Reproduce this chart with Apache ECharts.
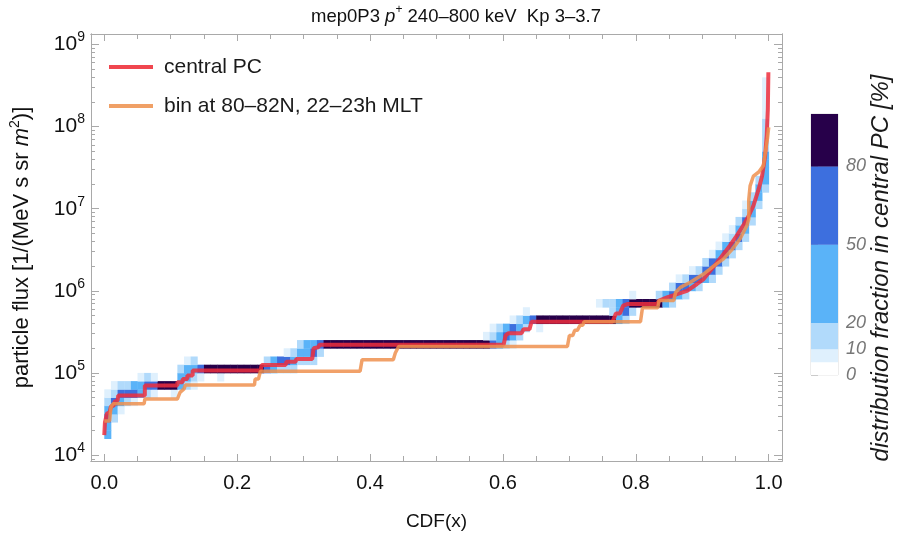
<!DOCTYPE html>
<html><head><meta charset="utf-8">
<script src="https://cdn.jsdelivr.net/npm/echarts@6/dist/echarts.min.js"></script>
<style>html,body{margin:0;padding:0;background:#fff}#c{width:912px;height:536px}</style>
</head><body><div id="c"></div>
<script>
// ---- tick labels / axis data ----
const xTickLabels = [0, 0.2, 0.4, 0.6, 0.8, 1.0];
const xMinorTicks = [0.05,0.1,0.15,0.25,0.3,0.35,0.45,0.5,0.55,0.65,0.7,0.75,0.85,0.9,0.95];
const yTickExponents = [4, 5, 6, 7, 8, 9];
const colorbarTicks = [0, 10, 20, 50, 80];
const colorbarBounds = [0, 5, 10, 20, 50, 80, 100];
const colorbarColors = ['#ffffff', '#dff0fd', '#b1dafb', '#5ab3f8', '#3d6fde', '#27004a'];

// ---- series: [CDF, flux] ----
const centralPC = [
 [0.000,1.75e4],[0.001,2.5e4],[0.003,2.5e4],[0.004,3.2e4],[0.008,3.3e4],[0.010,3.9e4],[0.014,4.0e4],
 [0.016,4.5e4],[0.020,4.6e4],[0.021,5.3e4],[0.061,5.3e4],[0.061,7.0e4],[0.110,7.0e4],[0.110,7.7e4],
 [0.118,7.7e4],[0.118,8.4e4],[0.125,8.4e4],[0.125,9.3e4],[0.133,9.3e4],[0.133,1.07e5],[0.235,1.07e5],
 [0.237,1.25e5],[0.273,1.25e5],[0.274,1.37e5],[0.288,1.37e5],[0.289,1.48e5],[0.313,1.48e5],[0.315,2.0e5],
 [0.322,2.05e5],[0.324,2.2e5],[0.601,2.2e5],[0.604,2.85e5],[0.608,3.05e5],[0.628,3.05e5],[0.631,3.4e5],
 [0.640,3.4e5],[0.643,4.2e5],[0.765,4.2e5],[0.770,5.3e5],[0.776,5.3e5],[0.781,6.6e5],[0.787,6.9e5],
 [0.832,6.9e5],[0.835,7.6e5],[0.847,8.3e5],[0.862,9.1e5],[0.877,1.0e6],[0.892,1.21e6],[0.902,1.39e6],
 [0.912,1.76e6],[0.922,2.2e6],[0.932,2.8e6],[0.942,3.6e6],[0.952,4.7e6],[0.962,6.3e6],[0.970,8.2e6],
 [0.977,1.09e7],[0.985,1.74e7],[0.990,2.5e7],[0.9946,4.4e7],[0.997,7.8e7],[0.9987,1.64e8],[0.9995,4.6e8]
];
const binMLT = [
 [0.000,2.6e4],[0.008,2.6e4],[0.010,3.8e4],[0.013,4.2e4],[0.060,4.2e4],[0.061,4.8e4],[0.110,4.8e4],
 [0.114,5.8e4],[0.120,6.4e4],[0.122,7.1e4],[0.226,7.1e4],[0.227,8.4e4],[0.232,8.4e4],[0.235,1.05e5],
 [0.385,1.05e5],[0.388,1.45e5],[0.435,1.45e5],[0.438,1.75e5],[0.441,1.8e5],[0.443,2.1e5],[0.697,2.1e5],
 [0.700,2.85e5],[0.705,2.85e5],[0.708,3.3e5],[0.712,3.3e5],[0.716,3.8e5],[0.720,3.8e5],[0.722,4.2e5],
 [0.807,4.2e5],[0.810,6.2e5],[0.833,6.2e5],[0.835,7.6e5],[0.857,7.6e5],[0.860,9.6e5],[0.867,1.1e6],
 [0.882,1.27e6],[0.902,1.6e6],[0.917,2.0e6],[0.932,2.45e6],[0.945,3.2e6],[0.957,4.3e6],[0.967,6.2e6],
 [0.970,7.5e6],[0.970,1.3e7],[0.972,1.9e7],[0.977,2.5e7],[0.985,2.8e7],[0.992,3.35e7],[0.998,7.1e7],[1.000,9.8e7]
];

// ---- heatmap: runs of cells [log10 flux bin start, CDF from, CDF to, percent] ----
const heatRuns = [
 [4.2,0.00,0.01,35],
 [4.3,0.00,0.01,35],
 [4.4,0.00,0.01,65],[4.4,0.01,0.02,15],
 [4.5,0.00,0.01,35],[4.5,0.01,0.02,35],[4.5,0.02,0.03,7],
 [4.6,0.00,0.01,15],[4.6,0.01,0.02,65],[4.6,0.02,0.03,35],[4.6,0.03,0.04,15],[4.6,0.04,0.05,7],
 [4.7,0.00,0.01,7],[4.7,0.01,0.02,15],[4.7,0.02,0.05,65],[4.7,0.05,0.06,35],[4.7,0.06,0.07,15],[4.7,0.07,0.08,7],[4.7,0.10,0.11,7],
 [4.8,0.01,0.02,7],[4.8,0.02,0.04,15],[4.8,0.04,0.06,35],[4.8,0.06,0.08,65],[4.8,0.08,0.11,90],[4.8,0.11,0.12,35],[4.8,0.12,0.13,15],[4.8,0.13,0.14,7],
 [4.9,0.05,0.06,7],[4.9,0.06,0.07,15],[4.9,0.07,0.08,7],[4.9,0.11,0.13,35],[4.9,0.13,0.14,15],[4.9,0.14,0.15,7],[4.9,0.17,0.18,7],
 [5.0,0.11,0.12,15],[5.0,0.12,0.14,35],[5.0,0.14,0.15,65],[5.0,0.15,0.24,90],[5.0,0.24,0.25,65],[5.0,0.25,0.26,35],[5.0,0.26,0.29,15],
 [5.1,0.12,0.13,7],[5.1,0.13,0.14,15],[5.1,0.24,0.25,15],[5.1,0.25,0.26,35],[5.1,0.26,0.28,65],[5.1,0.28,0.29,35],[5.1,0.29,0.32,15],
 [5.2,0.27,0.28,7],[5.2,0.28,0.29,15],[5.2,0.29,0.31,35],[5.2,0.31,0.32,65],[5.2,0.32,0.33,15],
 [5.3,0.29,0.30,15],[5.3,0.30,0.32,35],[5.3,0.32,0.33,65],[5.3,0.33,0.58,90],[5.3,0.58,0.59,65],[5.3,0.59,0.60,35],[5.3,0.60,0.61,15],[5.3,0.61,0.62,7],
 [5.4,0.57,0.58,7],[5.4,0.58,0.59,15],[5.4,0.59,0.60,35],[5.4,0.60,0.61,65],[5.4,0.61,0.62,35],[5.4,0.62,0.63,15],
 [5.5,0.58,0.59,7],[5.5,0.59,0.60,15],[5.5,0.60,0.61,35],[5.5,0.61,0.62,65],[5.5,0.62,0.63,35],[5.5,0.63,0.64,15],[5.5,0.65,0.66,7],
 [5.6,0.61,0.62,7],[5.6,0.62,0.63,15],[5.6,0.63,0.64,35],[5.6,0.64,0.65,65],[5.6,0.65,0.77,90],[5.6,0.77,0.78,35],[5.6,0.78,0.79,15],
 [5.7,0.63,0.64,7],[5.7,0.76,0.77,15],[5.7,0.77,0.78,35],[5.7,0.78,0.79,65],[5.7,0.79,0.80,15],
 [5.8,0.74,0.75,7],[5.8,0.75,0.77,15],[5.8,0.77,0.78,35],[5.8,0.78,0.79,65],[5.8,0.79,0.84,90],[5.8,0.84,0.85,35],[5.8,0.85,0.86,15],
 [5.9,0.79,0.80,7],[5.9,0.83,0.84,15],[5.9,0.84,0.85,35],[5.9,0.85,0.86,65],[5.9,0.86,0.87,35],[5.9,0.87,0.88,15],
 [6.0,0.85,0.86,15],[6.0,0.86,0.88,65],[6.0,0.88,0.89,35],[6.0,0.89,0.90,15],
 [6.1,0.86,0.87,7],[6.1,0.87,0.88,15],[6.1,0.88,0.90,65],[6.1,0.90,0.91,35],[6.1,0.91,0.92,15],
 [6.2,0.88,0.89,7],[6.2,0.89,0.90,15],[6.2,0.90,0.92,65],[6.2,0.92,0.93,15],
 [6.3,0.90,0.91,15],[6.3,0.91,0.93,65],[6.3,0.93,0.94,15],
 [6.4,0.91,0.92,7],[6.4,0.92,0.93,35],[6.4,0.93,0.94,65],[6.4,0.94,0.95,15],
 [6.5,0.92,0.93,7],[6.5,0.93,0.94,35],[6.5,0.94,0.95,65],[6.5,0.95,0.96,15],
 [6.6,0.93,0.94,7],[6.6,0.94,0.95,15],[6.6,0.95,0.96,65],[6.6,0.96,0.97,15],
 [6.7,0.94,0.95,7],[6.7,0.95,0.97,35],
 [6.8,0.95,0.96,15],[6.8,0.96,0.97,65],[6.8,0.97,0.98,15],
 [6.9,0.96,0.97,15],[6.9,0.97,0.98,35],
 [7.0,0.96,0.97,7],[7.0,0.97,0.98,35],[7.0,0.98,0.99,15],
 [7.1,0.97,0.98,15],[7.1,0.98,0.99,35],
 [7.2,0.98,0.99,35],[7.2,0.99,1.00,15],
 [7.3,0.98,0.99,15],[7.3,0.99,1.00,35],
 [7.4,0.99,1.00,35],[7.5,0.99,1.00,35],[7.6,0.99,1.00,35],
 [7.7,0.99,1.00,15],[7.8,0.99,1.00,15],[7.9,0.99,1.00,15],[8.0,0.99,1.00,15],
 [8.1,0.99,1.00,7],[8.2,0.99,1.00,7],[8.3,0.99,1.00,7],[8.4,0.99,1.00,7],[8.5,0.99,1.00,7]
];

// ---- build ----
const FONT = '"Liberation Sans", Arial, Helvetica, sans-serif';
const X_MIN = -0.02, X_MAX = 1.02, Y_MIN = 3.927, Y_MAX = 9.128;
const LOG_BIN = 0.1, CDF_BIN = 0.01;
const AX = '#a9a9a9';

const heatCells = [];
heatRuns.forEach(r => {
  const a = Math.round(r[1] * 100), b = Math.round(r[2] * 100);
  for (let k = a; k < b; k++) heatCells.push([k / 100, r[0], r[3]]);
});
function pctColor(v) {
  for (let i = 0; i < colorbarColors.length; i++) {
    if (v < colorbarBounds[i + 1]) return colorbarColors[i];
  }
  return colorbarColors[colorbarColors.length - 1];
}
const yMajor = yTickExponents.slice();
const yMinor = [];
for (let e = 3; e <= 9; e++) for (let k = 2; k <= 9; k++) {
  const v = e + Math.log10(k);
  if (v > Y_MIN && v < Y_MAX) yMinor.push(v);
}
const toLog = arr => arr.map(p => [p[0], Math.log10(p[1])]);

function yAxisDef(pos, ticks, len, withLabels) {
  return {
    type: 'value', gridIndex: 0, min: Y_MIN, max: Y_MAX, position: pos,
    axisLine: { show: true, onZero: false, lineStyle: { color: AX, width: 1 } },
    axisTick: { show: true, inside: true, length: len, customValues: ticks, lineStyle: { color: AX } },
    axisLabel: withLabels ? {
      show: true, customValues: yMajor, margin: 6,
      formatter: v => '{b|10}{s|' + Math.round(v) + '}',
      rich: {
        b: { fontSize: 21, fontFamily: FONT, color: '#111', lineHeight: 28 },
        s: { fontSize: 14, fontFamily: FONT, color: '#111', lineHeight: 14, verticalAlign: 'top' }
      }
    } : { show: false },
    splitLine: { show: false },
    name: withLabels ? '{t|particle flux [1/(MeV s sr }{i|m}{s|2}{t|)]}' : '',
    nameLocation: 'middle', nameGap: 55,
    nameTextStyle: {
      rich: {
        t: { fontSize: 22, fontFamily: FONT, color: '#111', lineHeight: 28 },
        i: { fontSize: 22, fontFamily: FONT, color: '#111', fontStyle: 'italic', lineHeight: 28 },
        s: { fontSize: 14, fontFamily: FONT, color: '#111', lineHeight: 14, verticalAlign: 'top' }
      }
    }
  };
}
function xAxisDef(pos, ticks, len, withLabels) {
  return {
    type: 'value', gridIndex: 0, min: X_MIN, max: X_MAX, position: pos,
    axisLine: { show: true, onZero: false, lineStyle: { color: AX, width: 1 } },
    axisTick: { show: true, inside: true, length: len, customValues: ticks, lineStyle: { color: AX } },
    axisLabel: withLabels ? {
      show: true, customValues: xTickLabels, margin: 12, fontSize: 20, fontFamily: FONT, color: '#111',
      formatter: v => v.toFixed(1)
    } : { show: false },
    splitLine: { show: false },
    name: withLabels ? 'CDF(x)' : '', nameLocation: 'middle', nameGap: 51,
    nameTextStyle: { fontSize: 19, fontFamily: FONT, color: '#111' }
  };
}

const option = {
  animation: false,
  backgroundColor: '#ffffff',
  title: {
    text: 'mep0P3 {i|p}{s|+} 240–800 keV  Kp 3–3.7',
    left: 'center', top: -1,
    textStyle: {
      fontSize: 18.5, fontWeight: 'normal', fontFamily: FONT, color: '#111', lineHeight: 26,
      rich: {
        i: { fontSize: 18.5, fontStyle: 'italic', fontFamily: FONT, color: '#111', lineHeight: 26 },
        s: { fontSize: 12, fontFamily: FONT, color: '#111', lineHeight: 12, verticalAlign: 'top' }
      }
    }
  },
  legend: {
    left: 104, top: 50, orient: 'vertical', icon: 'rect', itemWidth: 44, itemHeight: 4, itemGap: 15,
    textStyle: { fontSize: 21, fontFamily: FONT, color: '#1a1a1a', lineHeight: 24, padding: [0, 0, 0, 6] },
    data: ['central PC', 'bin at 80–82N, 22–23h MLT']
  },
  grid: [
    { left: 88, top: 34, width: 694, height: 427 },
    { left: 811, top: 114, width: 27, height: 261, show: true, borderColor: '#dcdcdc', borderWidth: 1, backgroundColor: 'transparent' }
  ],
  xAxis: [
    xAxisDef('bottom', xTickLabels, 7, true),
    xAxisDef('bottom', xMinorTicks, 5, false),
    xAxisDef('top', xTickLabels, 7, false),
    xAxisDef('top', xMinorTicks, 5, false),
    { type: 'value', gridIndex: 1, min: 0, max: 1, show: false }
  ],
  yAxis: [
    yAxisDef('left', yMajor, 8, true),
    yAxisDef('left', yMinor, 4, false),
    yAxisDef('right', yMajor, 8, false),
    yAxisDef('right', yMinor, 4, false),
    {
      type: 'value', gridIndex: 1, min: 0, max: 100, position: 'right',
      axisLine: { show: false },
      axisTick: { show: true, inside: false, length: 7, customValues: colorbarTicks, lineStyle: { color: '#b5b5b5' } },
      axisLabel: { show: true, customValues: colorbarTicks, margin: 8, fontSize: 18, fontStyle: 'italic', fontFamily: FONT, color: '#777' },
      splitLine: { show: false }
    }
  ],
  graphic: [{
    type: 'text', x: 881, y: 268, rotation: Math.PI / 2,
    style: { text: 'distribution fraction in central PC [%]', fontSize: 24, fontStyle: 'italic', fontFamily: FONT, fill: '#1a1a1a', align: 'center', verticalAlign: 'middle' }
  }],
  series: [
    {
      type: 'custom', name: 'heat', xAxisIndex: 0, yAxisIndex: 0, silent: true, z: 1, clip: true,
      data: heatCells,
      renderItem: (params, api) => {
        const x0 = api.value(0), y0 = api.value(1), v = api.value(2);
        const p0 = api.coord([x0, y0 + LOG_BIN]);
        const p1 = api.coord([x0 + CDF_BIN, y0]);
        return { type: 'rect', shape: { x: p0[0], y: p0[1], width: p1[0] - p0[0] + 0.4, height: p1[1] - p0[1] + 0.4 }, style: { fill: pctColor(v) } };
      }
    },
    {
      type: 'line', name: 'central PC', xAxisIndex: 0, yAxisIndex: 0, z: 3,
      data: toLog(centralPC), showSymbol: false, symbol: 'none',
      color: '#ee2e3c',
      lineStyle: { width: 4, color: '#ee2e3c', opacity: 0.85 }, itemStyle: { color: '#f0464f' }
    },
    {
      type: 'line', name: 'bin at 80–82N, 22–23h MLT', xAxisIndex: 0, yAxisIndex: 0, z: 4,
      data: toLog(binMLT), showSymbol: false, symbol: 'none',
      color: '#ee904f',
      lineStyle: { width: 3.5, color: '#ee904f', opacity: 0.85 }, itemStyle: { color: '#f0a066' }
    },
    {
      type: 'custom', name: 'colorbar', xAxisIndex: 4, yAxisIndex: 4, silent: true,
      data: colorbarColors.map((c, i) => [colorbarBounds[i], colorbarBounds[i + 1], i]),
      renderItem: (params, api) => {
        const lo = api.value(0), hi = api.value(1), i = api.value(2);
        const p0 = api.coord([0, hi]);
        const p1 = api.coord([1, lo]);
        return { type: 'rect', shape: { x: p0[0], y: p0[1], width: p1[0] - p0[0], height: p1[1] - p0[1] + 0.3 }, style: { fill: colorbarColors[i] } };
      }
    }
  ]
};
const chart = echarts.init(document.getElementById('c'));
chart.setOption(option);
</script>
</body></html>
